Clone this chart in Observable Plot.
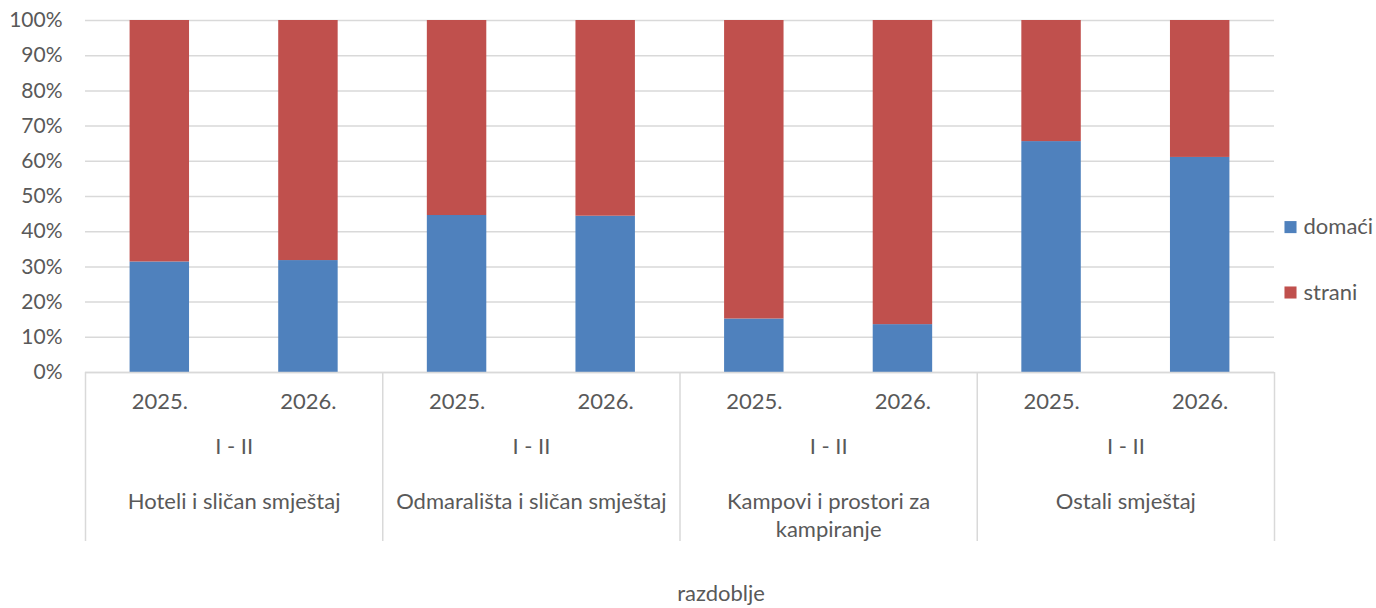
<!DOCTYPE html>
<html>
<head>
<meta charset="utf-8">
<script src="https://cdn.jsdelivr.net/npm/d3@7"></script>
<script src="https://cdn.jsdelivr.net/npm/@observablehq/plot@0.6"></script>
<style>
  html, body { margin: 0; padding: 0; background: #fff; }
</style>
</head>
<body>
<div id="chart"></div>
<script>
const categories = ["Hoteli i sličan smještaj", "Odmarališta i sličan smještaj", "Kampovi i prostori za\nkampiranje", "Ostali smještaj"];
const years = ["2025.", "2026."];
const period = "I - II";
const series = ["domaći", "strani"];
const domaci = [31.4, 31.8, 44.6, 44.4, 15.2, 13.6, 65.6, 61.1];
const yTicks = [0, 10, 20, 30, 40, 50, 60, 70, 80, 90, 100];
const axisTitle = "razdoblje";
const colors = ["#4f81bd", "#c0504d"];

const W = 1376, H = 608;
const mL = 85, mR = 102, mT = 20, mB = 236;
const step = (W - mL - mR) / (categories.length * years.length);

const slots = [];
categories.forEach((c, i) => years.forEach((y, j) => slots.push({key: `${i}|${j}`, cat: c, year: y, gi: i, yi: j})));
const rows = [];
series.forEach((s, si) => slots.forEach((sl, k) => rows.push({key: sl.key, series: s, value: si === 0 ? domaci[k] : 100 - domaci[k]})));
const groupFirst = slots.filter(d => d.yi === 0);
const lastSlot = [slots[slots.length - 1]];

const txt = "#595959";
const fs = 22;
const chart = Plot.plot({
  width: W, height: H,
  marginLeft: mL, marginRight: mR, marginTop: mT, marginBottom: mB,
  style: {fontFamily: "Lato, sans-serif", fontSize: fs + "px", color: txt, background: "#fff"},
  x: {domain: slots.map(d => d.key), paddingInner: 0.6, paddingOuter: 0.3, round: false, axis: null},
  y: {domain: [0, 100], axis: null},
  color: {domain: series, range: colors},
  marks: [
    Plot.gridY(yTicks, {stroke: "#d9d9d9", strokeOpacity: 1, strokeWidth: 1.5}),
    Plot.axisY(yTicks, {tickSize: 0, tickPadding: 23, tickFormat: d => d + "%", fill: txt, fontSize: 21, label: null}),
    Plot.barY(rows, {x: "key", y: "value", fill: "series", order: series}),
    Plot.ruleY([0], {stroke: "#d9d9d9", strokeWidth: 1.5}),
    Plot.ruleX(groupFirst, {x: "key", y1: 0, y2: -48, dx: -step / 2, stroke: "#d9d9d9", strokeWidth: 1.5}),
    Plot.ruleX(lastSlot, {x: "key", y1: 0, y2: -48, dx: step / 2, stroke: "#d9d9d9", strokeWidth: 1.5}),
    Plot.text(slots, {x: "key", text: "year", frameAnchor: "bottom", dy: 36, fill: txt, fontSize: fs}),
    Plot.text(groupFirst, {x: "key", text: () => period, frameAnchor: "bottom", dx: step / 2, dy: 81, fill: txt, fontSize: fs}),
    Plot.text(groupFirst, {x: "key", text: "cat", frameAnchor: "bottom", dx: step / 2, dy: 117, lineAnchor: "top", lineHeight: 1.27, fill: txt, fontSize: fs}),
    Plot.text([axisTitle], {text: d => d, frameAnchor: "bottom", dx: 41, dy: 228, fill: txt, fontSize: fs}),
    Plot.dot([series[0]], {fill: d => d, symbol: "square", r: 6.8, frameAnchor: "right", dx: 16, dy: 30.6}),
    Plot.dot([series[1]], {fill: d => d, symbol: "square", r: 6.8, frameAnchor: "right", dx: 16, dy: 96}),
    Plot.text([series[0]], {text: d => d, frameAnchor: "right", textAnchor: "start", dx: 29, dy: 30.6, fill: txt, fontSize: fs}),
    Plot.text([series[1]], {text: d => d, frameAnchor: "right", textAnchor: "start", dx: 29, dy: 96, fill: txt, fontSize: fs})
  ]
});
document.getElementById("chart").appendChild(chart);
</script>
</body>
</html>
